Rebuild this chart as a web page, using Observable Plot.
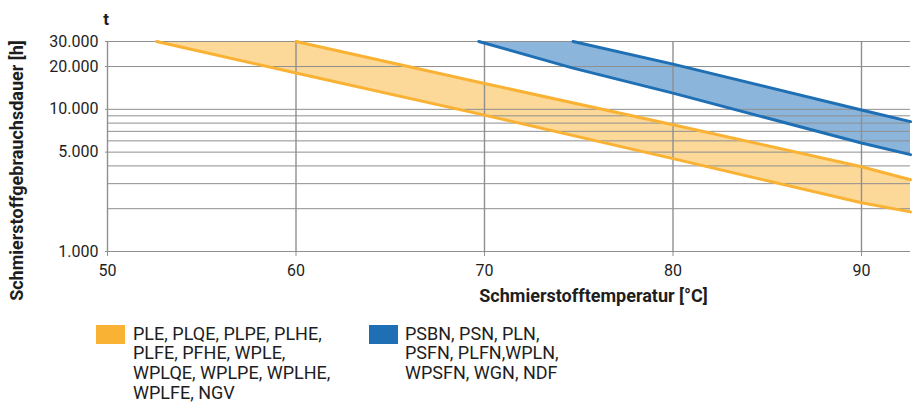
<!DOCTYPE html>
<html><head><meta charset="utf-8">
<script src="https://cdn.jsdelivr.net/npm/d3@7"></script>
<script src="https://cdn.jsdelivr.net/npm/@observablehq/plot@0.6"></script>
<style>
body{margin:0;background:#fff;font-family:Roboto,sans-serif;}
#wrap{position:relative;width:914px;height:402px;overflow:hidden;}
#chart{position:absolute;left:0;top:0;}
.leg{position:absolute;font-size:18px;line-height:19.8px;color:#1e1e1e;white-space:nowrap;}
.sw{position:absolute;width:29px;height:19px;}
</style></head><body>
<div id="wrap"><div id="chart"></div>
<div class="sw" style="left:96px;top:325px;background:#F9B233"></div>
<div class="leg" id="legO" style="left:133px;top:323.5px"></div>
<div class="sw" style="left:369px;top:325px;background:#1F6FB5"></div>
<div class="leg" id="legB" style="left:405px;top:323.5px"></div>
</div>
<script>
// Orange band (lower line reaches 30.000 h at 52.6 °C, upper at 60 °C)
const tempOrange = [52.6, 60, 70, 80, 90, 92.6];
const orangeMax  = [30000, 30000, 15200, 7800, 3950, 3200];
const orangeMin  = [30000, 18000, 9100, 4500, 2200, 1900];
// Blue band (lower line reaches 30.000 h at 69.7 °C, upper at 74.7 °C)
const tempBlue = [69.7, 74.7, 80, 90, 92.6];
const blueMax  = [30000, 30000, 20800, 9900, 8200];
const blueMin  = [30000, 19500, 13000, 5800, 4800];

const xTicks = [50, 60, 70, 80, 90];
const yTickLabels = [1000, 5000, 10000, 20000, 30000];
const yGrid = [1000, 2000, 3000, 4000, 5000, 6000, 7000, 8000, 9000, 10000, 20000, 30000];

const xTitle = "Schmierstofftemperatur [°C]";
const yTitle = "Schmierstoffgebrauchsdauer [h]";
const unitLabel = "t";
const legendOrange = ["PLE, PLQE, PLPE, PLHE,", "PLFE, PFHE, WPLE,", "WPLQE, WPLPE, WPLHE,", "WPLFE, NGV"];
const legendBlue = ["PSBN, PSN, PLN,", "PSFN, PLFN,WPLN,", "WPSFN, WGN, NDF"];

const orangeRows = tempOrange.map((t, i) => ({t, hi: orangeMax[i], lo: orangeMin[i]}));
const blueRows = tempBlue.map((t, i) => ({t, hi: blueMax[i], lo: blueMin[i]}));

const fmt = d3.formatLocale({decimal: ",", thousands: ".", grouping: [3], currency: ["", "€"]}).format(",d");
const grid = "#8f8f8f";
const oLine = "#F9B233", oFill = "#FCD899", bLine = "#1F6FB5", bFill = "#8BB5DB";

const chart = Plot.plot({
  width: 914, height: 320,
  marginLeft: 107, marginRight: 4, marginTop: 41, marginBottom: 69,
  style: {fontFamily: "Roboto, sans-serif", fontSize: "16px", color: "#1e1e1e", background: "transparent"},
  x: {domain: [50, 92.6]},
  y: {type: "log", domain: [1000, 30000]},
  marks: [
    Plot.areaY(orangeRows, {x: "t", y1: "lo", y2: "hi", fill: oFill, curve: "linear"}),
    Plot.areaY(blueRows, {x: "t", y1: "lo", y2: "hi", fill: bFill, curve: "linear"}),
    Plot.ruleY(yGrid, {stroke: grid, strokeWidth: 1}),
    Plot.ruleX(xTicks, {stroke: grid, strokeWidth: 1.4}),
    Plot.lineY(orangeRows.slice(1), {x: "t", y: "hi", stroke: oLine, strokeWidth: 3}),
    Plot.lineY(orangeRows, {x: "t", y: "lo", stroke: oLine, strokeWidth: 3}),
    Plot.lineY(blueRows.slice(1), {x: "t", y: "hi", stroke: bLine, strokeWidth: 3}),
    Plot.lineY(blueRows, {x: "t", y: "lo", stroke: bLine, strokeWidth: 3}),
    Plot.axisX({ticks: xTicks, tickSize: 5, tickPadding: 8, stroke: grid, fill: "#1e1e1e", label: null, fontSize: 16}),
    Plot.axisY({ticks: yTickLabels, tickFormat: fmt, tickSize: 2, tickPadding: 7, stroke: grid, fill: "#1e1e1e", label: null, fontSize: 16}),
    Plot.text([xTitle], {text: d => d, frameAnchor: "bottom", dx: 84.5, dy: 45, fontWeight: "bold", fontSize: 18, lineAnchor: "middle", fill: "#1e1e1e"}),
    Plot.text([yTitle], {text: d => d, frameAnchor: "left", rotate: -90, dx: -90, dy: 24, fontWeight: "bold", fontSize: 18, textAnchor: "middle", lineAnchor: "middle", fill: "#1e1e1e"}),
    Plot.text([unitLabel], {text: d => d, frameAnchor: "top-left", dx: -1.5, dy: -17, fontWeight: "bold", fontSize: 17, textAnchor: "middle", lineAnchor: "bottom", fill: "#1e1e1e"})
  ]
});
document.getElementById("chart").appendChild(chart);
document.getElementById("legO").innerHTML = legendOrange.join("<br>");
document.getElementById("legB").innerHTML = legendBlue.join("<br>");
</script>
</body></html>
